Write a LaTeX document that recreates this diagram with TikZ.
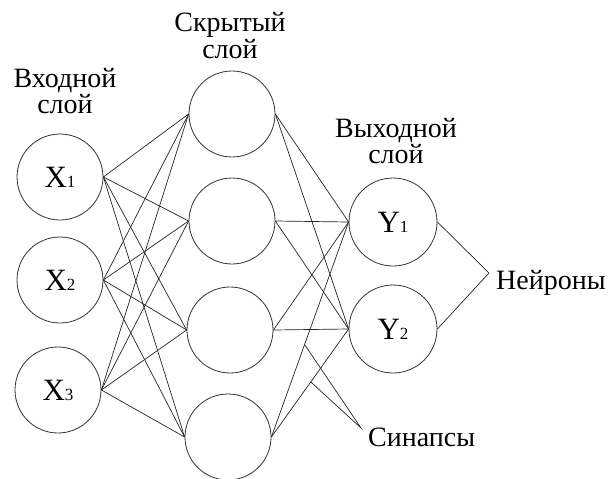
\documentclass[tikz,border=0pt]{standalone}
\usepackage{fontspec}
\setmainfont{Liberation Serif}
\usetikzlibrary{calc}
\newcommand\nnsub[2]{#1{\fontsize{17}{17}\selectfont #2}}
\begin{document}
\begin{tikzpicture}[x=1pt,y=-1pt,
  neuron/.style={circle,draw=black!80,line width=0.8pt,minimum size=86pt,inner sep=0pt,font=\fontsize{31}{31}\selectfont},
  syn/.style={draw=black!85,line width=0.7pt},
  lbl/.style={align=center,font=\fontsize{28}{23.5}\selectfont,inner sep=0pt}]
\fill[white] (0,0) rectangle (611,479);
\useasboundingbox (0,0) rectangle (611,479);

% input layer
\node[neuron] (x1) at (60,177) {\nnsub{X}{1}};
\node[neuron] (x2) at (60,280) {\nnsub{X}{2}};
\node[neuron] (x3) at (58,390) {\nnsub{X}{3}};
% hidden layer
\node[neuron] (h1) at (232,114) {};
\node[neuron] (h2) at (232,221) {};
\node[neuron] (h3) at (230,330) {};
\node[neuron] (h4) at (228,437) {};
% output layer
\node[neuron,minimum size=88pt] (y1) at (393,222) {\nnsub{Y}{1}};
\node[neuron,minimum size=88pt] (y2) at (393,329) {\nnsub{Y}{2}};

% synapses
\foreach \i in {1,2,3}{
  \foreach \j in {1,2,3,4}{
    \draw[syn] (x\i.east) -- (h\j.west);
  }
}
\foreach \j in {1,2,3,4}{
  \foreach \k in {1,2}{
    \draw[syn] (h\j.east) -- (y\k.west);
  }
}

% layer labels
\node[lbl,anchor=base] (lin) at (65,113) {Входной\\слой};
\node[lbl,anchor=base] (lhid) at (230,58) {Скрытый\\слой};
\node[lbl,anchor=base] (lout) at (396,163) {Выходной\\слой};

% neurons label
\coordinate (nmeet) at (489,273);
\node[lbl,anchor=base west] (lneur) at (496,289) {Нейроны};
\draw[syn] (y1.east) -- (nmeet) -- (y2.east);

% synapses label
\coordinate (smeet) at (361,428);
\coordinate (s1) at ($(h4.east)!0.43!(y1.west)$);
\coordinate (s2) at ($(h4.east)!0.51!(y2.west)$);
\node[lbl,anchor=base west] (lsyn) at (368,446) {Синапсы};
\draw[syn] (s1) -- (smeet) -- (s2);
\end{tikzpicture}
\end{document}
